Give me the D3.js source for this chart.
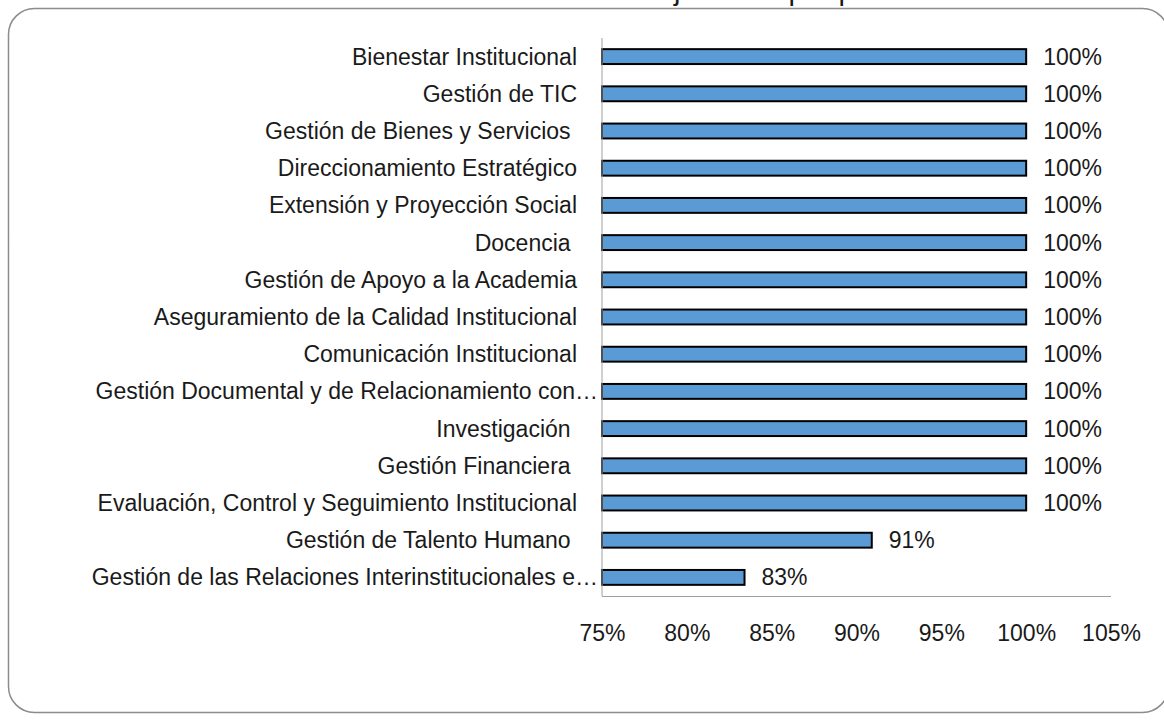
<!DOCTYPE html>
<meta charset="utf-8">
<style>
body { margin: 0; background: #fff; }
svg text { font-family: "Liberation Sans", Arial, sans-serif; fill: #1a1a1a; }
.cat { white-space: pre; }
</style>
<svg width="1164" height="720"></svg>
<script src="https://d3js.org/d3.v7.min.js"></script>
<script>

// processes, top to bottom (trailing spaces kept as in the source sheet)
var procesos = ["Bienestar Institucional", "Gestión de TIC", "Gestión de Bienes y Servicios ",
                "Direccionamiento Estratégico", "Extensión y Proyección Social", "Docencia ",
                "Gestión de Apoyo a la Academia", "Aseguramiento de la Calidad Institucional",
                "Comunicación Institucional", "Gestión Documental y de Relacionamiento con…",
                "Investigación ", "Gestión Financiera ",
                "Evaluación, Control y Seguimiento Institucional", "Gestión de Talento Humano ",
                "Gestión de las Relaciones Interinstitucionales e…"]
var avance = [1, 1, 1, 1, 1, 1, 1, 1, 1, 1, 1, 1, 1, 0.909, 0.834]
var ticks = [0.75, 0.80, 0.85, 0.90, 0.95, 1.00, 1.05]
var titulo = "Avance en la ejecución por proceso"

var svg = d3.select("svg")
var data = procesos.map(function(p, i) { return {proceso: p, valor: avance[i]} })

// outer frame of the chart area (right side runs off the picture)
svg.append("rect")
   .attr("x", 8.5).attr("y", 8.5)
   .attr("width", 1160).attr("height", 704)
   .attr("rx", 26).attr("ry", 26)
   .style("fill", "none")
   .style("stroke", "#8c8c8c")
   .style("stroke-width", 1.5)

// title, almost entirely above the picture: only descenders show
var t = svg.append("text")
   .attr("y", -0.5)
   .style("font-size", "29px")
   .text(titulo)
var jx = t.node().getStartPositionOfChar(titulo.indexOf("j")).x
t.attr("x", 674 - jx)

var x = d3.scaleLinear().domain([0.75, 1.05]).range([602, 1111])
var y = d3.scaleBand().domain(procesos).range([38, 596])
          .paddingInner(0.6).paddingOuter(0.3)

svg.selectAll("rect.bar")
   .data(data)
   .enter().append("rect")
   .attr("class", "bar")
   .attr("x", x(0.75))
   .attr("y", function(d) { return y(d.proceso) })
   .attr("width", function(d) { return x(d.valor) - x(0.75) })
   .attr("height", y.bandwidth())
   .style("fill", "#5b9bd5")
   .style("stroke", "#000")
   .style("stroke-width", 2)

// axis lines
svg.append("line")
   .attr("x1", x(0.75)).attr("x2", x(0.75))
   .attr("y1", 38).attr("y2", 596)
   .style("stroke", "#a0a0a0").style("stroke-width", 1)
svg.append("line")
   .attr("x1", x(0.75)).attr("x2", x(1.05))
   .attr("y1", 596.5).attr("y2", 596.5)
   .style("stroke", "#a0a0a0").style("stroke-width", 1)

var xAxis = d3.axisBottom(x).tickValues(ticks).tickFormat(d3.format(".0%"))
              .tickSize(0).tickPadding(29)
var gx = svg.append("g").attr("transform", "translate(0,596)").call(xAxis)
gx.select(".domain").remove()
gx.selectAll("text")
  .style("font-size", "23px")
  .style("font-family", "'Liberation Sans', Arial, sans-serif")
  .style("fill", "#1a1a1a")

// category labels
svg.selectAll("text.cat")
   .data(data)
   .enter().append("text")
   .attr("class", "cat")
   .attr("x", function(d) { return d.proceso.slice(-1) === "…" ? 598 : 577 })
   .attr("y", function(d) { return y(d.proceso) + y.bandwidth() / 2 })
   .attr("dy", "0.35em")
   .attr("text-anchor", "end")
   .style("font-size", "23px")
   .text(function(d) { return d.proceso })

// value labels
svg.selectAll("text.val")
   .data(data)
   .enter().append("text")
   .attr("class", "val")
   .attr("x", function(d) { return x(d.valor) + 17 })
   .attr("y", function(d) { return y(d.proceso) + y.bandwidth() / 2 })
   .attr("dy", "0.35em")
   .style("font-size", "23px")
   .text(function(d) { return d3.format(".0%")(d.valor) })

</script>
</html>
